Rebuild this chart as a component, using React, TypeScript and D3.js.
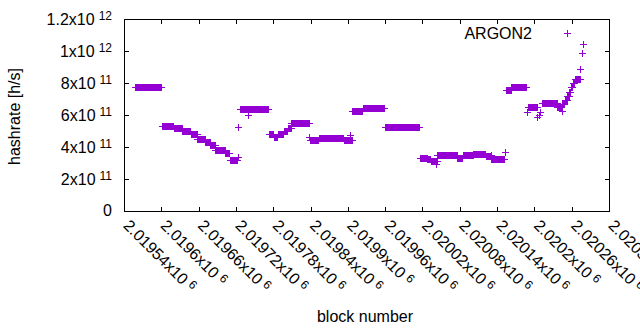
import React, { useEffect, useRef } from 'react';
import * as d3 from 'd3';

// runs of blocks sharing one hashrate, value in 1e11 h/s
const runStart = [
  2019558, 2019601, 2019620, 2019634, 2019647, 2019658, 2019671, 2019679, 2019687, 2019703,
  2019710, 2019723, 2019724, 2019727, 2019740, 2019741, 2019773, 2019781, 2019787, 2019797,
  2019803, 2019809, 2019838, 2019839, 2019853, 2019874, 2019894, 2019904, 2019905, 2019907,
  2019924, 2019959, 2020016, 2020028, 2020033, 2020041, 2020042, 2020044, 2020076, 2020085,
  2020102, 2020122, 2020130, 2020131, 2020152, 2020154, 2020163, 2020188, 2020190, 2020205,
  2020207, 2020209, 2020212, 2020237, 2020244, 2020245, 2020249, 2020253, 2020256, 2020259,
  2020262, 2020265, 2020274, 2020276, 2020278,
];
const runEnd = [
  2019600, 2019619, 2019633, 2019646, 2019657, 2019670, 2019678, 2019686, 2019702, 2019709,
  2019722, 2019723, 2019724, 2019739, 2019740, 2019772, 2019780, 2019786, 2019796, 2019802,
  2019808, 2019837, 2019838, 2019852, 2019873, 2019893, 2019903, 2019904, 2019906, 2019923,
  2019958, 2020015, 2020027, 2020032, 2020040, 2020041, 2020043, 2020075, 2020084, 2020101,
  2020121, 2020129, 2020130, 2020151, 2020152, 2020162, 2020187, 2020188, 2020204, 2020205,
  2020207, 2020209, 2020236, 2020243, 2020244, 2020248, 2020252, 2020255, 2020258, 2020261,
  2020264, 2020273, 2020274, 2020276, 2020278,
];
const runValue = [
  7.73, 5.29, 5.17, 5.0, 4.81, 4.53, 4.31, 4.13, 3.83, 3.62,
  3.16, 5.27, 3.39, 6.36, 6.0, 6.36, 4.79, 4.64, 4.81, 5.0,
  5.19, 5.48, 4.62, 4.44, 4.54, 4.59, 4.42, 4.75, 4.42, 6.23,
  6.42, 5.23, 3.33, 3.25, 3.11, 2.94, 3.11, 3.47, 3.34, 3.48,
  3.59, 3.46, 3.53, 3.23, 3.67, 7.55, 7.78, 6.17, 6.48, 5.86,
  6.03, 6.19, 6.73, 6.47, 6.22, 6.69, 6.94, 7.19, 7.44, 7.75,
  8.0, 8.28, 8.86, 9.86, 10.42,
];

const xTickValues = [
  2019540, 2019600, 2019660, 2019720, 2019780, 2019840, 2019900,
  2019960, 2020020, 2020080, 2020140, 2020200, 2020260, 2020320,
];
const xTickLabels = [
  '2.01954x10', '2.0196x10', '2.01966x10', '2.01972x10', '2.01978x10', '2.01984x10', '2.0199x10',
  '2.01996x10', '2.02002x10', '2.02008x10', '2.02014x10', '2.0202x10', '2.02026x10', '2.02032x10',
];
const xTickExp = '6';

const yTickValues = [0, 2e11, 4e11, 6e11, 8e11, 1e12, 1.2e12];
const yTickLabels = ['0', '2x10', '4x10', '6x10', '8x10', '1x10', '1.2x10'];
const yTickExps = ['', '11', '11', '11', '11', '12', '12'];

const seriesName = 'ARGON2';

const App = () => {
  const ref = useRef<SVGSVGElement>(null);

  useEffect(() => {
    const width = 640;
    const height = 330;
    const marginTop = 19.5;
    const marginRight = 30.5;
    const marginBottom = 118.5;
    const marginLeft = 124.5;
    const color = '#9400d3';
    const font = "'Liberation Sans', Arial, sans-serif";

    const x = d3.scaleLinear().domain([2019540, 2020320]).range([marginLeft, width - marginRight]);
    const y = d3.scaleLinear().domain([0, 1.2e12]).range([height - marginBottom, marginTop]);
    const x0 = x.range()[0], x1 = x.range()[1];
    const y0 = y.range()[0], y1 = y.range()[1];

    const svg = d3.select(ref.current);
    svg.selectAll('*').remove();
    svg.attr('font-family', font).attr('font-size', 16);

    svg.append('rect').attr('width', width).attr('height', height).attr('fill', 'white');

    // expand the runs into one point per block
    const points: { b: number; v: number }[] = [];
    runStart.forEach((s, i) => {
      for (let b = s; b <= runEnd[i]; b++) points.push({ b, v: runValue[i] * 1e11 });
    });

    const cross = (cx: number, cy: number) => {
      const px = Math.floor(cx) + 0.5;
      const py = Math.floor(cy) + 0.5;
      return `M${px - 3.5},${py}h7M${px},${py - 3.5}v7`;
    };

    svg.append('path')
      .attr('d', points.map(d => cross(x(d.b), y(d.v))).join(''))
      .attr('fill', 'none')
      .attr('stroke', color)
      .attr('stroke-width', 1)
      .attr('shape-rendering', 'crispEdges');

    // ticks (inward, mirrored)
    const ticks = svg.append('g')
      .attr('stroke', 'black')
      .attr('stroke-width', 1)
      .attr('shape-rendering', 'crispEdges');
    const tl = 4.5;
    xTickValues.forEach(v => {
      const px = Math.round(x(v) - 0.5) + 0.5;
      ticks.append('line').attr('x1', px).attr('x2', px).attr('y1', y0).attr('y2', y0 - tl);
      ticks.append('line').attr('x1', px).attr('x2', px).attr('y1', y1).attr('y2', y1 + tl);
    });
    yTickValues.forEach(v => {
      const py = Math.round(y(v) - 0.5) + 0.5;
      ticks.append('line').attr('x1', x0).attr('x2', x0 + tl).attr('y1', py).attr('y2', py);
      ticks.append('line').attr('x1', x1).attr('x2', x1 - tl).attr('y1', py).attr('y2', py);
    });

    // border
    svg.append('rect')
      .attr('x', x0).attr('y', y1)
      .attr('width', x1 - x0).attr('height', y0 - y1)
      .attr('fill', 'none')
      .attr('stroke', 'black')
      .attr('shape-rendering', 'crispEdges');

    // y tick labels
    yTickValues.forEach((v, i) => {
      const t = svg.append('text')
        .attr('x', 112)
        .attr('y', y(v) + (yTickExps[i] ? 5 : 4))
        .attr('text-anchor', 'end');
      t.append('tspan').text(yTickLabels[i]);
      if (yTickExps[i]) {
        t.append('tspan').attr('dx', 4).attr('dy', -4.5).attr('font-size', 12).text(yTickExps[i]);
      }
    });

    // x tick labels, rotated
    xTickValues.forEach((v, i) => {
      const t = svg.append('text')
        .attr('transform', `translate(${x(v) - 2},${y0 + 15}) rotate(45)`);
      t.append('tspan').text(xTickLabels[i]);
      t.append('tspan').attr('dx', 4).attr('dy', -4.5).attr('font-size', 12).text(xTickExp);
    });

    // axis titles
    svg.append('text')
      .attr('x', (x0 + x1) / 2 - 2)
      .attr('y', 321.5)
      .attr('text-anchor', 'middle')
      .text('block number');

    svg.append('text')
      .attr('transform', `translate(19.5,${(y0 + y1) / 2 + 1}) rotate(-90)`)
      .attr('text-anchor', 'middle')
      .text('hashrate [h/s]');

    // key
    svg.append('text')
      .attr('x', 532)
      .attr('y', 38.5)
      .attr('text-anchor', 'end')
      .text(seriesName);
    svg.append('path')
      .attr('d', cross(567, 33))
      .attr('fill', 'none')
      .attr('stroke', color)
      .attr('shape-rendering', 'crispEdges');
  }, []);

  return (
    <svg
      ref={ref}
      width={640}
      height={330}
      style={{ position: 'absolute', left: 0, top: 0, display: 'block' }}
    />
  );
};

export default App;
